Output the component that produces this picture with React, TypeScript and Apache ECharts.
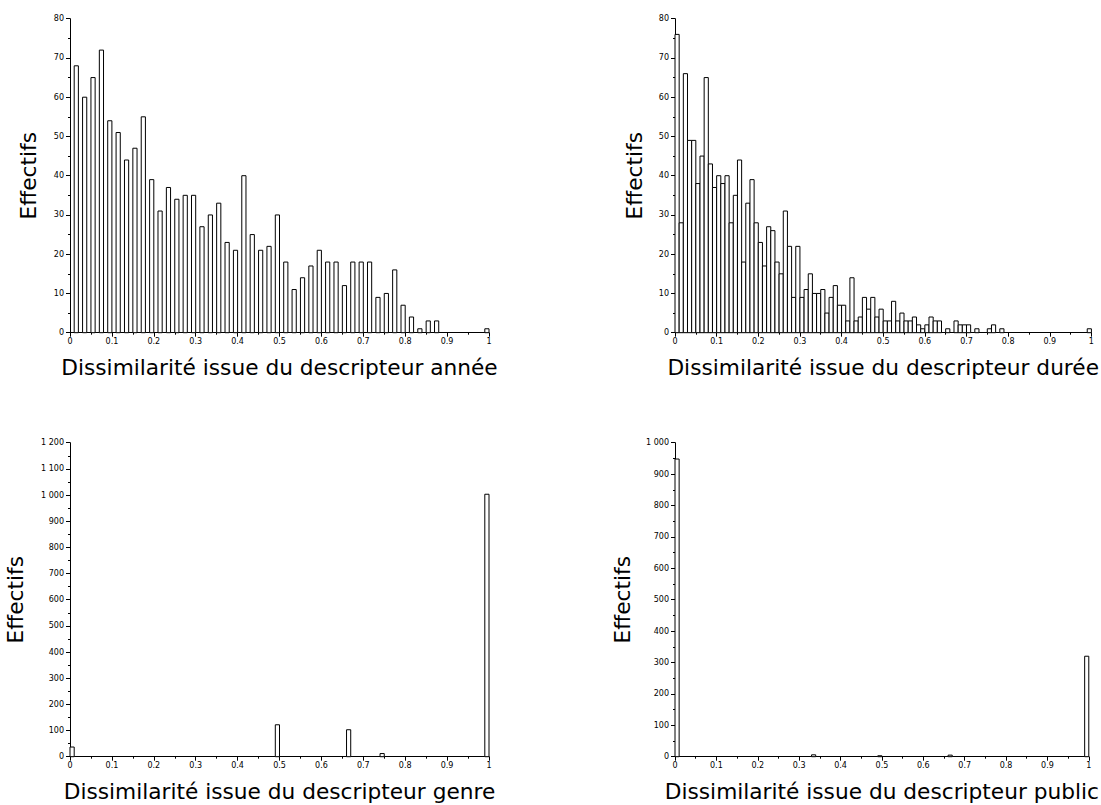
import React, { useEffect, useRef } from "react";
import * as echarts from "echarts";

// Dissimilarité "année": counts for bins [0.01+0.02j, 0.02+0.02j]
const anneeCounts = [
  68, 60, 65, 72, 54, 51, 44, 47, 55, 39, 31, 37, 34, 35, 35, 27, 30, 33, 23, 21,
  40, 25, 21, 22, 30, 18, 11, 14, 17, 21, 18, 18, 12, 18, 18, 18, 9, 10, 16, 7,
  4, 1, 3, 3, 0, 0, 0, 0, 0, 1,
];

// Dissimilarité "durée": counts for 100 bins of width 0.01
const dureeCounts = [
  76, 28, 66, 49, 49, 38, 45, 65, 43, 37, 40, 38, 40, 28, 35, 44, 18, 33, 39, 28,
  23, 17, 27, 26, 18, 15, 31, 22, 9, 22, 9, 11, 15, 10, 10, 11, 5, 9, 12, 7,
  7, 3, 14, 3, 4, 9, 6, 9, 4, 6, 3, 3, 8, 3, 5, 3, 3, 4, 2, 1,
  2, 4, 3, 3, 0, 1, 0, 3, 2, 2, 2, 0, 1, 0, 0, 1, 2, 0, 1, 0,
  0, 0, 0, 0, 0, 0, 0, 0, 0, 0, 0, 0, 0, 0, 0, 0, 0, 0, 0, 1,
];

// Dissimilarité "genre": non-empty bins (left edge) and counts
const genreBins = [0, 0.49, 0.66, 0.74, 0.99];
const genreCounts = [37, 122, 103, 12, 1003];

// Dissimilarité "public": non-empty bins (left edge) and counts
const publicBins = [0, 0.33, 0.49, 0.66, 0.99];
const publicCounts = [948, 6, 3, 5, 320];

const BIN_WIDTH = 0.01;
const xTickLabels = ["0", "0.1", "0.2", "0.3", "0.4", "0.5", "0.6", "0.7", "0.8", "0.9", "1"];

const panels = [
  {
    name: "Dissimilarité issue du descripteur année",
    data: anneeCounts.map((c, j) => [0.01 + 0.02 * j, c]),
    yMax: 80, yInterval: 10, yNameGap: 31,
    grid: { left: 70, top: 18.7, width: 419, height: 314 },
  },
  {
    name: "Dissimilarité issue du descripteur durée",
    data: dureeCounts.map((c, i) => [i * BIN_WIDTH, c]),
    yMax: 80, yInterval: 10, yNameGap: 30,
    grid: { left: 675, top: 18.7, width: 419, height: 314 },
  },
  {
    name: "Dissimilarité issue du descripteur genre",
    data: genreBins.map((b, i) => [b, genreCounts[i]]),
    yMax: 1200, yInterval: 100, yNameGap: 44,
    grid: { left: 70, top: 442.7, width: 419, height: 314 },
  },
  {
    name: "Dissimilarité issue du descripteur public",
    data: publicBins.map((b, i) => [b, publicCounts[i]]),
    yMax: 1000, yInterval: 100, yNameGap: 42,
    grid: { left: 675, top: 442.7, width: 419, height: 314 },
  },
];

const FONT = "DejaVu Sans";

function fmtThousands(v: number): string {
  return String(v).replace(/\B(?=(\d{3})+(?!\d))/g, " ");
}

export default function App() {
  const ref = useRef<HTMLDivElement>(null);

  useEffect(() => {
    document.body.style.margin = "0";
    if (!ref.current) return;
    const chart = echarts.init(ref.current, undefined, { renderer: "svg" });

    const renderItem = (params: any, api: any) => {
      const x0 = api.value(0);
      const y = api.value(1);
      if (!y) return null;
      const p1 = api.coord([x0, y]);
      const p2 = api.coord([x0 + BIN_WIDTH, 0]);
      return {
        type: "rect",
        shape: { x: p1[0], y: p1[1], width: p2[0] - p1[0], height: p2[1] - p1[1] },
        style: { fill: "#ffffff", stroke: "#000000", lineWidth: 1 },
      };
    };

    const option: any = {
      animation: false,
      backgroundColor: "#ffffff",
      grid: panels.map((p) => ({ ...p.grid, containLabel: false })),
      xAxis: panels.map((p, i) => ({
        gridIndex: i,
        type: "value",
        min: 0,
        max: 1,
        interval: 0.1,
        name: p.name,
        nameLocation: "middle",
        nameGap: 24,
        nameTextStyle: { fontSize: 21.7, fontFamily: FONT, color: "#000" },
        axisLine: { show: true, onZero: false, lineStyle: { color: "#000", width: 1 } },
        axisTick: { show: true, length: 4, lineStyle: { color: "#000" } },
        minorTick: { show: true, splitNumber: 2, length: 2, lineStyle: { color: "#000" } },
        splitLine: { show: false },
        axisLabel: {
          fontSize: 8,
          fontFamily: FONT,
          color: "#000",
          margin: 5,
          formatter: (v: number) => xTickLabels[Math.round(v * 10)] ?? String(v),
        },
      })),
      yAxis: panels.map((p, i) => ({
        gridIndex: i,
        type: "value",
        min: 0,
        max: p.yMax,
        interval: p.yInterval,
        name: "Effectifs",
        nameLocation: "middle",
        nameGap: p.yNameGap,
        nameRotate: 90,
        nameTextStyle: { fontSize: 21.7, fontFamily: FONT, color: "#000" },
        axisLine: { show: true, onZero: false, lineStyle: { color: "#000", width: 1 } },
        axisTick: { show: true, length: 4, lineStyle: { color: "#000" } },
        minorTick: { show: true, splitNumber: 2, length: 2, lineStyle: { color: "#000" } },
        splitLine: { show: false },
        axisLabel: {
          fontSize: 8,
          fontFamily: FONT,
          color: "#000",
          margin: 6,
          formatter: (v: number) => fmtThousands(v),
        },
      })),
      series: panels.map((p, i) => ({
        type: "custom",
        xAxisIndex: i,
        yAxisIndex: i,
        renderItem,
        data: p.data,
        clip: false,
      })),
    };

    chart.setOption(option);
    return () => chart.dispose();
  }, []);

  return <div ref={ref} style={{ width: 1101, height: 805 }} />;
}
